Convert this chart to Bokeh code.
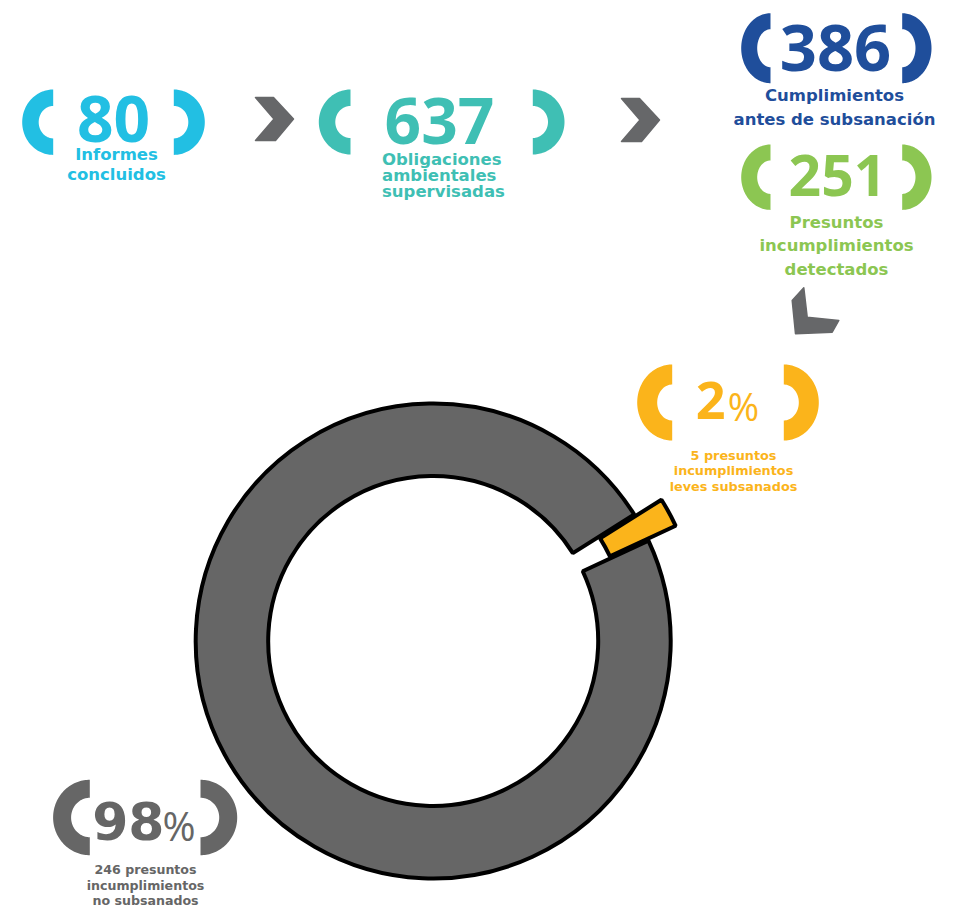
import numpy as np
from bokeh.plotting import figure
from bokeh.models import Range1d
from bokeh.core.properties import value
from bokeh.embed import file_html
from bokeh.resources import INLINE

# ---------------- data ----------------
stage_values = [80, 637, 386, 251]
stage_labels = [
    ["Informes", "concluidos"],
    ["Obligaciones", "ambientales", "supervisadas"],
    ["Cumplimientos", "antes de subsanación"],
    ["Presuntos", "incumplimientos", "detectados"],
]
share_counts = [5, 246]          # leves subsanados, no subsanados
share_pct = [2, 98]
share_tails = [["incumplimientos", "leves subsanados"],
               ["incumplimientos", "no subsanados"]]

# ---------------- styles ----------------
CYAN, TEAL, NAVY, GREEN = "#22BFE3", "#3FBFB4", "#1F4E9B", "#8CC652"
YELLOW, GRAY, CHEV = "#FBB41B", "#666666", "#666769"
OPEN = value("Open Sans")
DEJA = value("DejaVu Sans")
CORR = {"Open Sans": 0.38, "DejaVu Sans": 0.38}   # baseline correction (em)

W, H = 955, 909
p = figure(width=W, height=H, x_range=Range1d(0, W), y_range=Range1d(-H, 0),
           output_backend="svg", toolbar_location=None,
           x_axis_location=None, y_axis_location=None,
           min_border=0, outline_line_color=None)
p.grid.visible = False
p.background_fill_color = "white"
p.border_fill_color = "white"


def bracket(cx, cy, a, b, t, side):
    th = np.linspace(-np.pi / 2, np.pi / 2, 80)
    xo = cx + side * a * np.cos(th)
    yo = cy + b * np.sin(th)
    xi = cx + side * (a - t) * np.cos(th[::-1])
    yi = cy + (b - t) * np.sin(th[::-1])
    return list(np.concatenate([xo, xi])), list(np.concatenate([yo, yi]))


def draw_brackets(color, cut, cy, a, b, t):
    xs, ys = [], []
    for cx, side in ((cut[0], -1), (cut[1], 1)):
        bx, by = bracket(cx, -cy, a, b, t, side)
        xs.append(bx)
        ys.append(by)
    p.patches(xs=xs, ys=ys, fill_color=color, line_color=None)


def num_text(x, base, s, size, color, align, style="bold", font="Open Sans"):
    p.text(x=[x], y=[-(base - CORR[font] * size)], text=[s], text_font=value(font),
           text_font_style=style, text_font_size=value(f"{size}px"), text_color=color,
           text_align=align, text_baseline="alphabetic")


def draw_lines(lines, x, bases, size, color, align):
    p.text(x=[x] * len(lines), y=[-(b - CORR["DejaVu Sans"] * size) for b in bases], text=lines,
           text_font=DEJA, text_font_style="bold", text_font_size=value(f"{size}px"),
           text_color=color, text_align=align, text_baseline="alphabetic")


# ---------------- stage blocks ----------------
blocks = [
    dict(color=CYAN, cut=(52.7, 173.3), cy=121.7, a=31, b=32.7, t=16.5, nx=113, nb=142.7, ns=64,
         lx=116, la="center", lb=[160.7, 180], ls=16.5),
    dict(color=TEAL, cut=(350, 532.3), cy=121.5, a=31.7, b=32.5, t=16.5, nx=439, nb=145, ns=64,
         lx=381.5, la="left", lb=[165, 181.7, 197.7], ls=16.5),
    dict(color=NAVY, cut=(770, 901.7), cy=47.7, a=29.3, b=35, t=16, nx=835, nb=71.7, ns=65,
         lx=834, la="center", lb=[101, 125], ls=16.5),
    dict(color=GREEN, cut=(770, 901.7), cy=176.7, a=29.3, b=32.7, t=16, nx=837, nb=196.7, ns=57,
         lx=836, la="center", lb=[228.3, 251.7, 275], ls=16.5),
]
for v, lines, bl in zip(stage_values, stage_labels, blocks):
    draw_brackets(bl["color"], bl["cut"], bl["cy"], bl["a"], bl["b"], bl["t"])
    num_text(bl["nx"], bl["nb"], str(v), bl["ns"], bl["color"], "center")
    draw_lines(lines, bl["lx"], bl["lb"], bl["ls"], bl["color"], bl["la"])

# ---------------- percentage blocks ----------------
pct_blocks = [
    dict(color=YELLOW, cut=(671.7, 783.3), cy=402, a=35, b=38, t=20, sx=(725, 727.2), base=420,
         ns=52, nf="Open Sans", ps=38, lx=733, lb=[460, 475, 491], ls=12.8),
    dict(color=GRAY, cut=(89.3, 200), cy=817, a=36.7, b=37.7, t=18, sx=(164, 162), base=840.3,
         ns=52, nf="DejaVu Sans", ps=40, lx=145, lb=[873.5, 889.5, 905], ls=12.6),
]
for c, pc, tail, bl in zip(share_counts, share_pct, share_tails, pct_blocks):
    draw_brackets(bl["color"], bl["cut"], bl["cy"], bl["a"], bl["b"], bl["t"])
    num_text(bl["sx"][0], bl["base"], str(pc), bl["ns"], bl["color"], "right", font=bl["nf"])
    num_text(bl["sx"][1], bl["base"], "%", bl["ps"], bl["color"], "left", style="normal")
    draw_lines([f"{c} presuntos"] + tail, bl["lx"], bl["lb"], bl["ls"], bl["color"], "center")

# ---------------- donut ----------------
total = sum(share_counts)
ang = 2 * np.pi * np.array(share_counts) / total
start0 = np.deg2rad(25.0)
starts = start0 + np.concatenate([[0.0], np.cumsum(ang)[:-1]])
ends = start0 + np.cumsum(ang)
mid = (starts + ends) / 2
explode = np.array([31.0, 0.0])
DCX, DCY = 432.7, -640.5
p.annular_wedge(x=DCX + explode * np.cos(mid), y=DCY + explode * np.sin(mid),
                inner_radius=165, outer_radius=237.5,
                start_angle=starts, end_angle=ends,
                fill_color=[YELLOW, GRAY], line_color="black", line_width=4)

# ---------------- chevrons ----------------
chev_tpl = np.array([(0, 0), (18, 0), (38, 21.5), (20, 43), (0, 43), (18.5, 21.5)])
chev_pos = [(255, 97), (621, 98)]
l_tpl = np.array([(0, 12.7), (11.6, 0), (15, 29.4), (46.6, 32.7), (40, 44.4), (3.3, 46)])
l_pos = (791.7, 287.3)
xs, ys = [], []
for (ox, oy) in chev_pos:
    xs.append(list(ox + chev_tpl[:, 0]))
    ys.append(list(-(oy + chev_tpl[:, 1])))
xs.append(list(l_pos[0] + l_tpl[:, 0]))
ys.append(list(-(l_pos[1] + l_tpl[:, 1])))
p.patches(xs=xs, ys=ys, fill_color=CHEV, line_color=CHEV, line_width=1.5, line_join="round")

open("out.html", "w").write(file_html(p, INLINE))
